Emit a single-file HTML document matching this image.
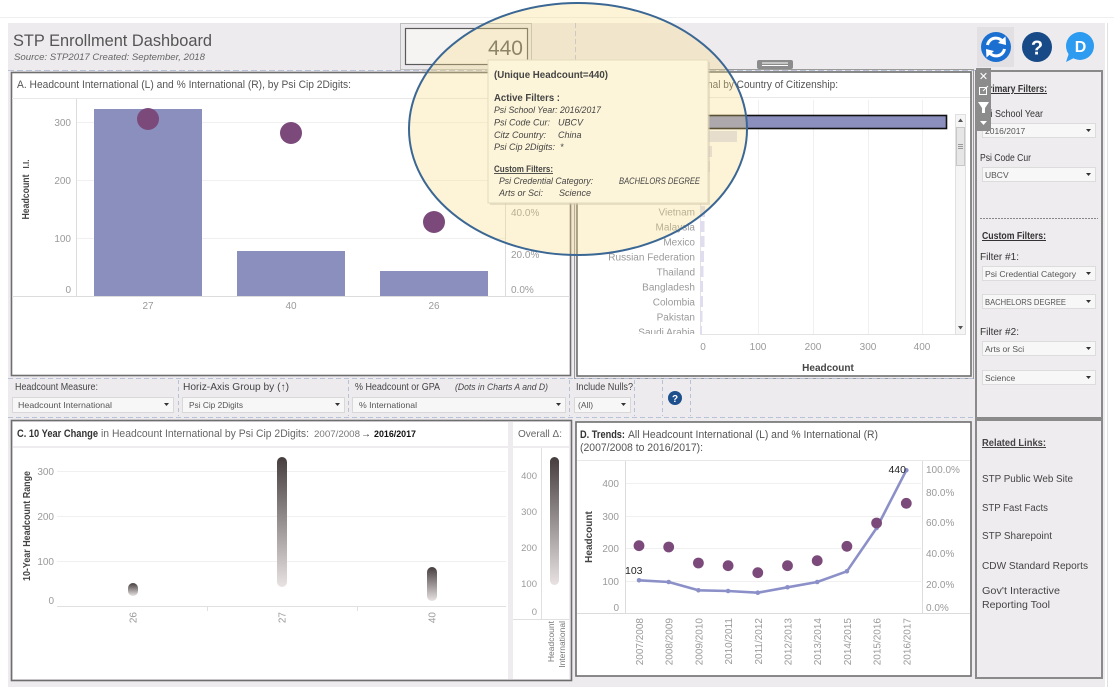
<!DOCTYPE html>
<html><head><meta charset="utf-8">
<style>
html,body{margin:0;padding:0;background:#fff;}
svg{display:block;font-family:"Liberation Sans",sans-serif;}
</style></head><body>
<svg width="1114" height="687" viewBox="0 0 1114 687" xmlns="http://www.w3.org/2000/svg">
<defs>
 <linearGradient id="cap" x1="0" y1="0" x2="0" y2="1">
  <stop offset="0" stop-color="#463e3e"/>
  <stop offset="1" stop-color="#e8e2e2"/>
 </linearGradient>
 <clipPath id="clipB"><rect x="580" y="99" width="372" height="235"/></clipPath>
</defs>

<!-- page background -->
<rect width="1114" height="687" fill="#fff"/>
<line x1="0" y1="17.5" x2="1114" y2="17.5" stroke="#efefef"/>
<rect x="8" y="23" width="1097" height="664" fill="#eeebee"/>
<line x1="1107.5" y1="23" x2="1107.5" y2="687" stroke="#e0e0e0"/>

<!-- header -->
<text x="13" y="46" font-size="17" fill="#555" textLength="199" lengthAdjust="spacingAndGlyphs">STP Enrollment Dashboard</text>
<text x="14" y="60" font-size="9.5" font-style="italic" fill="#666" textLength="191" lengthAdjust="spacingAndGlyphs">Source: STP2017   Created: September, 2018</text>
<line x1="8" y1="70.5" x2="975" y2="70.5" stroke="#b8c2d6" stroke-dasharray="6 3"/>

<!-- 440 box -->
<rect x="400.5" y="23.5" width="131" height="46" fill="#ebe9eb" stroke="#bdbdbd"/>
<rect x="405.5" y="28.5" width="122" height="36" fill="#f6f4f2" stroke="#5a5a5a" stroke-width="1.2"/>
<text x="523" y="55" font-size="21" fill="#5a5a5a" text-anchor="end">440</text>
<line x1="575.5" y1="23" x2="575.5" y2="68" stroke="#b8c2d6" stroke-dasharray="5 3"/>

<!-- top-right icons -->
<rect x="977" y="27" width="37" height="40" fill="#e3e0e3"/>
<circle cx="996" cy="47" r="15" fill="#1b6fd0"/>
<path d="M987.5 45 A8.5 8.5 0 0 1 1003 42" fill="none" stroke="#fff" stroke-width="3"/>
<polygon points="1005.5,36.5 1006,45 998,43" fill="#fff"/>
<path d="M1004.5 49 A8.5 8.5 0 0 1 989 52" fill="none" stroke="#fff" stroke-width="3"/>
<polygon points="986.5,57.5 986,49 994,51" fill="#fff"/>
<circle cx="1037" cy="47" r="15" fill="#174a87"/>
<text x="1037" y="54.5" font-size="20" font-weight="bold" fill="#fff" text-anchor="middle">?</text>
<circle cx="1080" cy="46" r="14" fill="#2c9bf0"/>
<polygon points="1069,53 1066,62 1076,57" fill="#2c9bf0"/>
<text x="1080.5" y="52" font-size="16" font-weight="bold" fill="#fff" text-anchor="middle">D</text>

<!-- ================= CHART A ================= -->
<rect x="11.5" y="72.5" width="559" height="303" fill="#fff" stroke="#6e6e6e" stroke-width="1.6"/>
<line x1="12" y1="98.5" x2="570" y2="98.5" stroke="#e8e8e8"/>
<text x="17" y="88" font-size="11" fill="#555" textLength="334" lengthAdjust="spacingAndGlyphs">A. Headcount International (L) and % International (R), by Psi Cip 2Digits:</text>
<g stroke="#f0f0f0">
 <line x1="77" y1="122.5" x2="505" y2="122.5"/>
 <line x1="77" y1="180.5" x2="505" y2="180.5"/>
 <line x1="77" y1="238.5" x2="505" y2="238.5"/>
</g>
<line x1="76.5" y1="99" x2="76.5" y2="297" stroke="#dcdcdc"/>
<line x1="505.5" y1="99" x2="505.5" y2="297" stroke="#dcdcdc"/>
<line x1="12" y1="296.5" x2="570" y2="296.5" stroke="#dcdcdc"/>
<g font-size="10" fill="#9a9a9a" text-anchor="end">
 <text x="71" y="126">300</text>
 <text x="71" y="184">200</text>
 <text x="71" y="242">100</text>
 <text x="71" y="293">0</text>
</g>
<text transform="translate(29,197) rotate(-90)" font-size="10" font-weight="bold" fill="#444" text-anchor="middle" textLength="45" lengthAdjust="spacingAndGlyphs">Headcount</text>
<text transform="translate(29,164) rotate(-90)" font-size="8" font-weight="bold" fill="#444" text-anchor="middle">I.I.</text>
<g fill="#8a8fbe">
 <rect x="94" y="109" width="108" height="187"/>
 <rect x="237" y="251" width="108" height="45"/>
 <rect x="380" y="271" width="108" height="25"/>
</g>
<g fill="#7b4a7b">
 <circle cx="148" cy="119" r="11"/>
 <circle cx="291" cy="133" r="11"/>
 <circle cx="434" cy="222" r="11"/>
</g>
<g font-size="10" fill="#9a9a9a" text-anchor="middle">
 <text x="148" y="309">27</text>
 <text x="291" y="309">40</text>
 <text x="434" y="309">26</text>
</g>
<g font-size="10" fill="#9a9a9a">
 <text x="511" y="132">80.0%</text>
 <text x="511" y="174">60.0%</text>
 <text x="511" y="216">40.0%</text>
 <text x="511" y="258">20.0%</text>
 <text x="511" y="293">0.0%</text>
</g>

<!-- ================= CHART B ================= -->
<rect x="757" y="60" width="36" height="9" rx="2" fill="#8c8c8c"/>
<line x1="762" y1="63" x2="788" y2="63" stroke="#fff"/>
<line x1="762" y1="65.5" x2="788" y2="65.5" stroke="#fff"/>
<rect x="574.5" y="69.5" width="399" height="309" fill="none" stroke="#9a9a9a" stroke-width="1"/>
<rect x="577" y="72" width="394" height="304" fill="#fff" stroke="#6e6e6e" stroke-width="1.6"/>
<line x1="578" y1="97.5" x2="970" y2="97.5" stroke="#e8e8e8"/>
<text x="707" y="88" font-size="11" fill="#555" text-anchor="end">B. Headcount Internatio</text>
<text x="707" y="88" font-size="11" fill="#555" textLength="131" lengthAdjust="spacingAndGlyphs">nal by Country of Citizenship:</text>
<g stroke="#f0f0f0">
 <line x1="758.5" y1="100" x2="758.5" y2="334"/>
 <line x1="813.5" y1="100" x2="813.5" y2="334"/>
 <line x1="868.5" y1="100" x2="868.5" y2="334"/>
 <line x1="922.5" y1="100" x2="922.5" y2="334"/>
</g>
<line x1="700.5" y1="100" x2="700.5" y2="334" stroke="#e4e4e4"/>
<line x1="700" y1="334.5" x2="955" y2="334.5" stroke="#e4e4e4"/>
<g clip-path="url(#clipB)">
 <g font-size="10" fill="#9a9a9a" text-anchor="end">
  <text x="695" y="125">China</text>
  <text x="695" y="140">India</text>
  <text x="695" y="155">South Korea</text>
  <text x="695" y="170">Indonesia</text>
  <text x="695" y="185">Japan</text>
  <text x="695" y="200">Iran</text>
  <text x="695" y="215.5">Vietnam</text>
  <text x="695" y="230.5">Malaysia</text>
  <text x="695" y="245.5">Mexico</text>
  <text x="695" y="260.5">Russian Federation</text>
  <text x="695" y="275.5">Thailand</text>
  <text x="695" y="290.5">Bangladesh</text>
  <text x="695" y="305.5">Colombia</text>
  <text x="695" y="320.5">Pakistan</text>
  <text x="695" y="335.5">Saudi Arabia</text>
 </g>
 <g fill="#dfddee">
  <rect x="700" y="131" width="37" height="11"/>
  <rect x="700" y="146" width="12" height="11"/>
  <rect x="700" y="161" width="10" height="11"/>
  <rect x="700" y="176" width="8" height="11"/>
  <rect x="700" y="191" width="7" height="11"/>
  <rect x="700" y="206" width="5" height="11"/>
  <rect x="700" y="221" width="4.5" height="11"/>
  <rect x="700" y="236" width="4.5" height="11"/>
  <rect x="700" y="251" width="4" height="11"/>
  <rect x="700" y="266" width="3.5" height="11"/>
  <rect x="700" y="281" width="3" height="11"/>
  <rect x="700" y="296" width="3" height="11"/>
  <rect x="700" y="311" width="2.5" height="11"/>
  <rect x="700" y="326" width="2" height="11"/>
 </g>
 <rect x="700.5" y="115.5" width="246" height="13" fill="#8a8fbe" stroke="#111" stroke-width="1.6"/>
</g>
<g font-size="10" fill="#9a9a9a" text-anchor="middle">
 <text x="703" y="350">0</text>
 <text x="758" y="350">100</text>
 <text x="813" y="350">200</text>
 <text x="868" y="350">300</text>
 <text x="922" y="350">400</text>
</g>
<text x="828" y="371" font-size="10" font-weight="bold" fill="#444" text-anchor="middle">Headcount</text>
<rect x="955.5" y="114.5" width="10" height="220" fill="#f5f5f5" stroke="#e0e0e0"/>
<rect x="956.5" y="127.5" width="8" height="38" fill="#e6e6e6" stroke="#c8c8c8"/>
<g stroke="#999"><line x1="958" y1="144.5" x2="963" y2="144.5"/><line x1="958" y1="146.5" x2="963" y2="146.5"/><line x1="958" y1="148.5" x2="963" y2="148.5"/></g>
<polygon points="958,122 963,122 960.5,118.5" fill="#555"/>
<polygon points="958,326 963,326 960.5,329.5" fill="#555"/>

<!-- ================= RIGHT FILTER PANEL ================= -->
<rect x="976" y="71" width="126" height="347" fill="#efecef" stroke="#8a8a8a" stroke-width="2"/>
<g font-size="10" fill="#333">
 <text x="983" y="92" font-weight="bold" text-decoration="underline" textLength="64" lengthAdjust="spacingAndGlyphs">Primary Filters:</text>
 <text x="980" y="117" textLength="63" lengthAdjust="spacingAndGlyphs">Psi School Year</text>
 <text x="980" y="161" textLength="51" lengthAdjust="spacingAndGlyphs">Psi Code Cur</text>
 <text x="982" y="239" font-weight="bold" text-decoration="underline" textLength="64" lengthAdjust="spacingAndGlyphs">Custom Filters:</text>
 <text x="980" y="260" textLength="39" lengthAdjust="spacingAndGlyphs">Filter #1:</text>
 <text x="980" y="335" textLength="39" lengthAdjust="spacingAndGlyphs">Filter #2:</text>
</g>
<line x1="980" y1="218.5" x2="1098" y2="218.5" stroke="#888" stroke-dasharray="2 1"/>
<g fill="#f8f7f8" stroke="#dcdcdc">
 <rect x="982.5" y="123.5" width="113" height="14"/>
 <rect x="982.5" y="167.5" width="113" height="14"/>
 <rect x="982.5" y="266.5" width="113" height="14"/>
 <rect x="982.5" y="294.5" width="113" height="14"/>
 <rect x="982.5" y="341.5" width="113" height="14"/>
 <rect x="982.5" y="370.5" width="113" height="14"/>
</g>
<g font-size="8.5" fill="#555">
 <text x="985" y="134">2016/2017</text>
 <text x="985" y="178">UBCV</text>
 <text x="985" y="277" textLength="91" lengthAdjust="spacingAndGlyphs">Psi Credential Category</text>
 <text x="985" y="305" textLength="81" lengthAdjust="spacingAndGlyphs">BACHELORS DEGREE</text>
 <text x="985" y="352">Arts or Sci</text>
 <text x="985" y="381">Science</text>
</g>
<g fill="#333">
 <polygon points="1086,129 1091,129 1088.5,132"/>
 <polygon points="1086,173 1091,173 1088.5,176"/>
 <polygon points="1086,272 1091,272 1088.5,275"/>
 <polygon points="1086,300 1091,300 1088.5,303"/>
 <polygon points="1086,347 1091,347 1088.5,350"/>
 <polygon points="1086,376 1091,376 1088.5,379"/>
</g>
<rect x="976" y="68" width="15" height="63" fill="#8c8c8c"/>
<text x="983.5" y="80" font-size="11" fill="#fff" text-anchor="middle">✕</text>
<rect x="979.5" y="87.5" width="7" height="7" fill="none" stroke="#fff"/>
<line x1="983" y1="91" x2="988" y2="86" stroke="#fff"/>
<polygon points="978,102 989,102 985,108 985,113 982,113 982,108" fill="#fff"/>
<polygon points="980,121 987,121 983.5,125" fill="#fff"/>

<!-- related links panel -->
<rect x="976" y="420" width="126" height="258" fill="#efecef" stroke="#8a8a8a" stroke-width="2"/>
<g font-size="10" fill="#444">
 <text x="982" y="446" font-weight="bold" text-decoration="underline" textLength="64" lengthAdjust="spacingAndGlyphs">Related Links:</text>
 <text x="982" y="482" textLength="91" lengthAdjust="spacingAndGlyphs">STP Public Web Site</text>
 <text x="982" y="511" textLength="66" lengthAdjust="spacingAndGlyphs">STP Fast Facts</text>
 <text x="982" y="539" textLength="70" lengthAdjust="spacingAndGlyphs">STP Sharepoint</text>
 <text x="982" y="569" textLength="106" lengthAdjust="spacingAndGlyphs">CDW Standard Reports</text>
 <text x="982" y="594" textLength="78" lengthAdjust="spacingAndGlyphs">Gov't Interactive</text>
 <text x="982" y="608" textLength="68" lengthAdjust="spacingAndGlyphs">Reporting Tool</text>
</g>

<!-- ================= FILTER ROW ================= -->
<line x1="8" y1="378.5" x2="975" y2="378.5" stroke="#b8c2d6" stroke-dasharray="5 3"/>
<line x1="8" y1="417.5" x2="975" y2="417.5" stroke="#b8c2d6" stroke-dasharray="5 3"/>
<g stroke="#b8c2d6" stroke-dasharray="4 3">
 <line x1="178.5" y1="380" x2="178.5" y2="416"/>
 <line x1="348.5" y1="380" x2="348.5" y2="416"/>
 <line x1="569.5" y1="380" x2="569.5" y2="416"/>
 <line x1="634.5" y1="380" x2="634.5" y2="416"/>
 <line x1="662.5" y1="380" x2="662.5" y2="416"/>
 <line x1="690.5" y1="380" x2="690.5" y2="416"/>
</g>
<g font-size="10" fill="#444">
 <text x="15" y="390" textLength="83" lengthAdjust="spacingAndGlyphs">Headcount Measure:</text>
 <text x="183" y="390" textLength="106" lengthAdjust="spacingAndGlyphs">Horiz-Axis Group by (↑)</text>
 <text x="355" y="390" textLength="85" lengthAdjust="spacingAndGlyphs">% Headcount or GPA</text>
 <text x="455" y="390" font-style="italic" font-size="9" textLength="93" lengthAdjust="spacingAndGlyphs">(Dots in Charts A and D)</text>
 <text x="576" y="390" textLength="57" lengthAdjust="spacingAndGlyphs">Include Nulls?</text>
</g>
<g fill="#f8f7f8" stroke="#d8d8d8">
 <rect x="12.5" y="397.5" width="161" height="15"/>
 <rect x="182.5" y="397.5" width="162" height="15"/>
 <rect x="352.5" y="397.5" width="213" height="15"/>
 <rect x="574.5" y="397.5" width="56" height="15"/>
</g>
<g font-size="8.5" fill="#555">
 <text x="18" y="408" textLength="94" lengthAdjust="spacingAndGlyphs">Headcount International</text>
 <text x="189" y="408" textLength="54" lengthAdjust="spacingAndGlyphs">Psi Cip 2Digits</text>
 <text x="359" y="408" textLength="58" lengthAdjust="spacingAndGlyphs">% International</text>
 <text x="578" y="408">(All)</text>
</g>
<g fill="#333">
 <polygon points="164,403 169,403 166.5,406"/>
 <polygon points="335,403 340,403 337.5,406"/>
 <polygon points="556,403 561,403 558.5,406"/>
 <polygon points="621,403 626,403 623.5,406"/>
</g>
<circle cx="675" cy="398" r="7" fill="#1c4f8c"/>
<text x="675" y="402" font-size="10" font-weight="bold" fill="#fff" text-anchor="middle">?</text>

<!-- ================= CHART C ================= -->
<rect x="11.5" y="420.5" width="560" height="260" fill="#eeecee" stroke="#6e6e6e" stroke-width="1.6"/>
<rect x="13" y="422" width="495" height="24" fill="#fff"/>
<rect x="513" y="422" width="56" height="24" fill="#fff"/>
<rect x="13" y="448" width="495" height="231" fill="#fff"/>
<rect x="513" y="448" width="56" height="231" fill="#fff"/>
<text x="17" y="437" font-size="11" fill="#333" font-weight="bold" textLength="81" lengthAdjust="spacingAndGlyphs">C. 10 Year Change</text>
<text x="101" y="437" font-size="11" fill="#666" textLength="208" lengthAdjust="spacingAndGlyphs">in Headcount International by Psi Cip 2Digits:</text>
<text x="314" y="437" font-size="9" fill="#777" textLength="46" lengthAdjust="spacingAndGlyphs">2007/2008</text>
<text x="361" y="437" font-size="10" fill="#333">→</text>
<text x="374" y="437" font-size="9.5" font-weight="bold" fill="#111" textLength="42" lengthAdjust="spacingAndGlyphs">2016/2017</text>
<text x="518" y="437" font-size="10.5" fill="#666" textLength="44" lengthAdjust="spacingAndGlyphs">Overall Δ:</text>
<g stroke="#f0f0f0">
 <line x1="57" y1="471.5" x2="506" y2="471.5"/>
 <line x1="57" y1="516.5" x2="506" y2="516.5"/>
 <line x1="57" y1="561.5" x2="506" y2="561.5"/>
</g>
<line x1="57" y1="606.5" x2="506" y2="606.5" stroke="#e0e0e0"/>
<line x1="207.5" y1="606" x2="207.5" y2="611" stroke="#e0e0e0"/>
<line x1="357.5" y1="606" x2="357.5" y2="611" stroke="#e0e0e0"/>
<g font-size="10" fill="#9a9a9a" text-anchor="end">
 <text x="54" y="475">300</text>
 <text x="54" y="520">200</text>
 <text x="54" y="565">100</text>
 <text x="54" y="604">0</text>
</g>
<text transform="translate(30,526) rotate(-90)" font-size="10" font-weight="bold" fill="#444" text-anchor="middle" textLength="110" lengthAdjust="spacingAndGlyphs">10-Year Headcount Range</text>
<rect x="128" y="583" width="10" height="13" rx="5" fill="url(#cap)"/>
<rect x="277" y="457" width="10" height="130" rx="5" fill="url(#cap)"/>
<rect x="427" y="567" width="10" height="34" rx="5" fill="url(#cap)"/>
<g font-size="10" fill="#9a9a9a" text-anchor="end">
 <text transform="translate(136.5,612) rotate(-90)">26</text>
 <text transform="translate(285.5,612) rotate(-90)">27</text>
 <text transform="translate(435.5,612) rotate(-90)">40</text>
</g>
<line x1="541.5" y1="448" x2="541.5" y2="619" stroke="#e0e0e0"/>
<line x1="513" y1="619.5" x2="569" y2="619.5" stroke="#e0e0e0"/>
<g font-size="9.5" fill="#9a9a9a" text-anchor="end">
 <text x="537" y="479">400</text>
 <text x="537" y="515">300</text>
 <text x="537" y="551">200</text>
 <text x="537" y="587">100</text>
 <text x="537" y="615">0</text>
</g>
<rect x="550" y="457" width="9" height="128" rx="4.5" fill="url(#cap)"/>
<g font-size="8.5" fill="#777" text-anchor="end">
 <text transform="translate(554,621) rotate(-90)">Headcount</text>
 <text transform="translate(565,621) rotate(-90)">International</text>
</g>

<!-- ================= CHART D ================= -->
<rect x="576" y="422" width="395" height="254" fill="#fff" stroke="#6e6e6e" stroke-width="1.6"/>
<line x1="577" y1="460.5" x2="970" y2="460.5" stroke="#e8e8e8"/>
<text x="580" y="438" font-size="11" font-weight="bold" fill="#333" textLength="45" lengthAdjust="spacingAndGlyphs">D. Trends:</text>
<text x="628" y="438" font-size="11" fill="#555" textLength="250" lengthAdjust="spacingAndGlyphs">All Headcount International (L) and % International (R)</text>
<text x="580" y="451" font-size="11" fill="#555" textLength="123" lengthAdjust="spacingAndGlyphs">(2007/2008 to 2016/2017):</text>
<g stroke="#f0f0f0">
 <line x1="626" y1="483.5" x2="921" y2="483.5"/>
 <line x1="626" y1="516.5" x2="921" y2="516.5"/>
 <line x1="626" y1="548.5" x2="921" y2="548.5"/>
 <line x1="626" y1="581.5" x2="921" y2="581.5"/>
</g>
<line x1="625.5" y1="461" x2="625.5" y2="613" stroke="#dcdcdc"/>
<line x1="922.5" y1="461" x2="922.5" y2="613" stroke="#dcdcdc"/>
<line x1="577" y1="613.5" x2="970" y2="613.5" stroke="#dcdcdc"/>
<g font-size="10" fill="#9a9a9a" text-anchor="end">
 <text x="619" y="487">400</text>
 <text x="619" y="520">300</text>
 <text x="619" y="552">200</text>
 <text x="619" y="585">100</text>
 <text x="619" y="611">0</text>
</g>
<g font-size="10" fill="#9a9a9a">
 <text x="926" y="473">100.0%</text>
 <text x="926" y="496">80.0%</text>
 <text x="926" y="526">60.0%</text>
 <text x="926" y="557">40.0%</text>
 <text x="926" y="588">20.0%</text>
 <text x="926" y="611">0.0%</text>
</g>
<text transform="translate(592,537) rotate(-90)" font-size="10" font-weight="bold" fill="#444" text-anchor="middle">Headcount</text>
<polyline points="639,580.3 668.7,582 698.4,590.3 728.1,591 757.8,592.7 787.5,587.3 817.2,582 846.9,571.3 876.6,528 906.3,470.3" fill="none" stroke="#8c90c8" stroke-width="2.6" stroke-linejoin="round"/>
<g fill="#8c90c8">
 <circle cx="639" cy="580.3" r="2.3"/><circle cx="668.7" cy="582" r="2.3"/><circle cx="698.4" cy="590.3" r="2.3"/>
 <circle cx="728.1" cy="591" r="2.3"/><circle cx="757.8" cy="592.7" r="2.3"/><circle cx="787.5" cy="587.3" r="2.3"/>
 <circle cx="817.2" cy="582" r="2.3"/><circle cx="846.9" cy="571.3" r="2.3"/><circle cx="876.6" cy="528" r="2.3"/>
 <circle cx="906.3" cy="470.3" r="2.3"/>
</g>
<g fill="#7b4a7b">
 <circle cx="639" cy="545.7" r="5.4"/><circle cx="668.7" cy="547" r="5.4"/><circle cx="698.4" cy="563" r="5.4"/>
 <circle cx="728.1" cy="565.7" r="5.4"/><circle cx="757.8" cy="572.7" r="5.4"/><circle cx="787.5" cy="565.7" r="5.4"/>
 <circle cx="817.2" cy="560.7" r="5.4"/><circle cx="846.9" cy="546.3" r="5.4"/><circle cx="876.6" cy="523" r="5.4"/>
 <circle cx="906.3" cy="503.3" r="5.4"/>
</g>
<text x="625" y="574" font-size="10.5" fill="#222">103</text>
<text x="906" y="473" font-size="10.5" fill="#222" text-anchor="end">440</text>
<g font-size="10" fill="#9a9a9a" text-anchor="end">
 <text transform="translate(643,618) rotate(-90)">2007/2008</text>
 <text transform="translate(672.7,618) rotate(-90)">2008/2009</text>
 <text transform="translate(702.4,618) rotate(-90)">2009/2010</text>
 <text transform="translate(732.1,618) rotate(-90)">2010/2011</text>
 <text transform="translate(761.8,618) rotate(-90)">2011/2012</text>
 <text transform="translate(791.5,618) rotate(-90)">2012/2013</text>
 <text transform="translate(821.2,618) rotate(-90)">2013/2014</text>
 <text transform="translate(850.9,618) rotate(-90)">2014/2015</text>
 <text transform="translate(880.6,618) rotate(-90)">2015/2016</text>
 <text transform="translate(910.3,618) rotate(-90)">2016/2017</text>
</g>

<!-- ================= HIGHLIGHT ELLIPSE + TOOLTIP ================= -->
<ellipse cx="578" cy="129" rx="169" ry="126" fill="rgb(248,220,135)" fill-opacity="0.32" stroke="#3b6794" stroke-width="2"/>
<rect x="490" y="62" width="220" height="143" fill="#cfc6ad" opacity="0.5"/>
<rect x="488" y="60" width="220" height="143" fill="#fdf5d9" stroke="#e4dabd"/>
<text x="494" y="78" font-size="10.5" font-weight="bold" fill="#444" textLength="114" lengthAdjust="spacingAndGlyphs">(Unique Headcount=440)</text>
<text x="494" y="101" font-size="10.5" font-weight="bold" fill="#444" textLength="66" lengthAdjust="spacingAndGlyphs">Active Filters :</text>
<g font-size="9" font-style="italic" fill="#444">
 <text x="494" y="113" textLength="107" lengthAdjust="spacingAndGlyphs">Psi School Year: 2016/2017</text>
 <text x="494" y="125.5">Psi Code Cur:</text><text x="558" y="125.5">UBCV</text>
 <text x="494" y="138">Citz Country:</text><text x="558" y="138">China</text>
 <text x="494" y="150">Psi Cip 2Digits:</text><text x="560" y="150">*</text>
 <text x="499" y="184" textLength="94" lengthAdjust="spacingAndGlyphs">Psi Credential Category:</text>
 <text x="619" y="184" textLength="81" lengthAdjust="spacingAndGlyphs">BACHELORS DEGREE</text>
 <text x="499" y="196">Arts or Sci:</text><text x="559" y="196">Science</text>
</g>
<text x="494" y="172" font-size="9" font-weight="bold" fill="#444" text-decoration="underline" textLength="59" lengthAdjust="spacingAndGlyphs">Custom Filters:</text>
</svg>
</body></html>
